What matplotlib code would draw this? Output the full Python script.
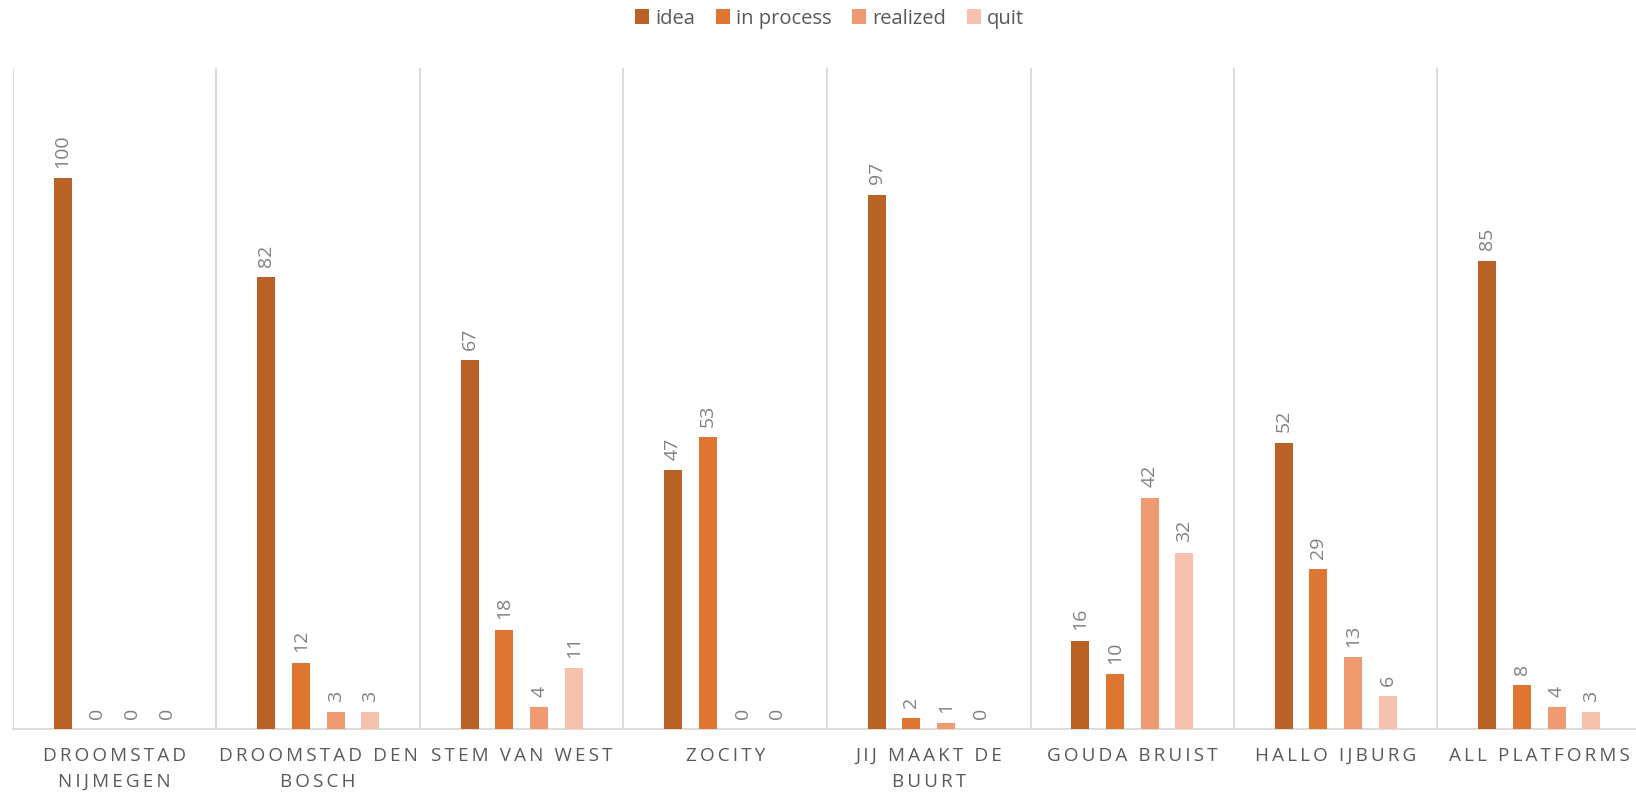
import matplotlib
matplotlib.use("Agg")
import matplotlib.pyplot as plt
import numpy as np

plt.rcParams['font.family'] = ['Open Sans', 'DejaVu Sans']

categories = ["DROOMSTAD\nNIJMEGEN", "DROOMSTAD DEN\nBOSCH", "STEM VAN WEST", "ZOCITY",
              "JIJ MAAKT DE\nBUURT", "GOUDA BRUIST", "HALLO IJBURG", "ALL PLATFORMS"]
series_names = ["idea", "in process", "realized", "quit"]
idea = [100, 82, 67, 47, 97, 16, 52, 85]
in_process = [0, 12, 18, 53, 2, 10, 29, 8]
realized = [0, 3, 4, 0, 1, 42, 13, 4]
quit_ = [0, 3, 11, 0, 0, 32, 6, 3]
colors = ["#BA6125", "#DE7530", "#F09A71", "#F5C2AE"]

series = [idea, in_process, realized, quit_]

W, H = 1636, 796
fig = plt.figure(figsize=(W / 100, H / 100), dpi=100)
ax = fig.add_axes([13 / W, (H - 729) / H, 1628 / W, (729 - 68) / H])

n = len(categories)
centers = np.arange(n) + 0.5
step = 0.171
bw = 0.0887
text_gray = "#595959"
label_gray = "#808080"

for i, (name, vals, c) in enumerate(zip(series_names, series, colors)):
    xs = centers + (i - 1.5) * step
    ax.bar(xs, vals, width=bw, color=c, label=name, zorder=3)
    for x, v in zip(xs, vals):
        ax.annotate(str(v), (x, v), xytext=(0, 7.5), textcoords="offset points",
                    rotation=90, ha="center", va="bottom", fontsize=14,
                    color=label_gray)

ax.set_xlim(0, n)
ax.set_ylim(0, 120)
for k in range(n + 1):
    ax.axvline(k, color="#D9D9D9", lw=1.3, zorder=1)

for s in ["top", "right", "left"]:
    ax.spines[s].set_visible(False)
ax.spines["bottom"].set_color("#D9D9D9")
ax.spines["bottom"].set_linewidth(1.3)
ax.set_yticks([])


def spaced(label):
    return "\n".join("\u2006".join(list(line)) for line in label.split("\n"))


ax.set_xticks(centers)
ax.set_xticklabels([spaced(c) for c in categories], fontsize=13.6, color=text_gray,
                   linespacing=1.55)
ax.tick_params(axis="x", length=0, pad=13)

fig.legend(loc="upper center", bbox_to_anchor=(0.507, 1.012), ncol=4, frameon=False,
           handlelength=0.7, handleheight=0.7, handletextpad=0.3,
           columnspacing=1.03, labelcolor=text_gray,
           prop={'family': ['Open Sans', 'DejaVu Sans'], 'size': 14.5})

fig.savefig("out.png", dpi=100)
